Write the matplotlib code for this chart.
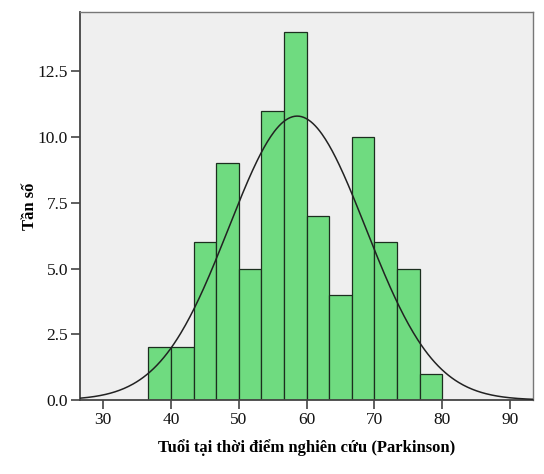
import numpy as np
import matplotlib
matplotlib.use("Agg")
import matplotlib.pyplot as plt

# Data
bin_start = 36.667
bin_width = 10 / 3
counts = [2, 2, 6, 9, 5, 11, 14, 7, 4, 10, 6, 5, 1, 0]
fit_mean = 58.6
fit_sd = 10.1
n_total = 82
xticks = [30, 40, 50, 60, 70, 80, 90]
yticks = [0.0, 2.5, 5.0, 7.5, 10.0, 12.5]

plt.rcParams['font.family'] = ['Liberation Serif', 'DejaVu Serif']

fig = plt.figure(figsize=(5.44, 4.74), dpi=100)
ax = fig.add_axes([0.147, 0.156, 0.833, 0.819])
ax.set_facecolor('#efefef')

lefts = bin_start + bin_width * np.arange(len(counts))
ax.bar(lefts, counts, width=bin_width, align='edge', color='#6fdb80',
       edgecolor='#1c2e1f', linewidth=0.9, zorder=2)

xs = np.linspace(26.5, 93.5, 400)
ys = n_total * bin_width / (fit_sd * np.sqrt(2 * np.pi)) * np.exp(-0.5 * ((xs - fit_mean) / fit_sd) ** 2)
ax.plot(xs, ys, color='#222222', linewidth=1.1, zorder=3)

ax.set_xlim(26.56, 93.4)
ax.set_ylim(0, 14.76)
ax.set_xticks(xticks)
ax.set_xticklabels([str(t) for t in xticks])
ax.set_yticks(yticks)
ax.set_yticklabels([f"{t:.1f}" for t in yticks])
ax.tick_params(axis='both', direction='out', length=6.5, width=1.2, color='#444444',
               labelsize=12.5, labelcolor='#111111', pad=2)
ax.tick_params(top=False, right=False)
for s in ['left', 'bottom']:
    ax.spines[s].set_color('#444444')
    ax.spines[s].set_linewidth(1.3)
for s in ['top', 'right']:
    ax.spines[s].set_color('#777777')
    ax.spines[s].set_linewidth(1.0)

ax.set_xlabel('Tuổi tại thời điểm nghiên cứu (Parkinson)', fontsize=12,
              fontweight='bold', labelpad=8)
ax.set_ylabel('Tần số', fontsize=12, fontweight='bold', labelpad=0)

fig.savefig('out.png', dpi=100)
